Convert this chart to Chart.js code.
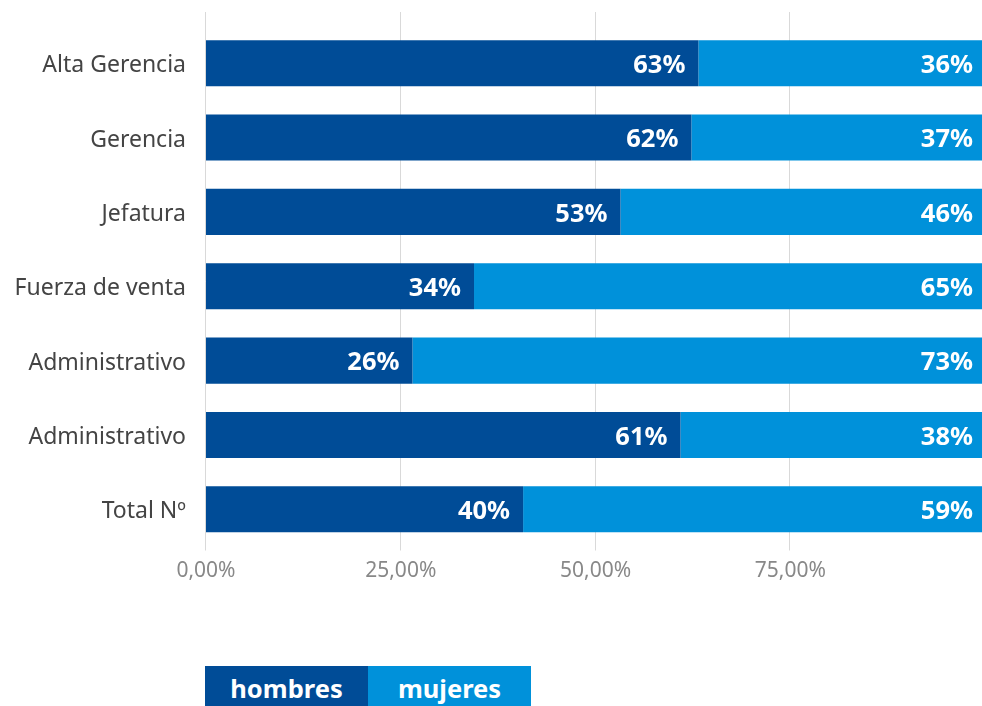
<!DOCTYPE html>
<html>
<head>
<meta charset="utf-8">
<script src="https://cdn.jsdelivr.net/npm/chart.js@4"></script>
<style>
    html, body { margin: 0; padding: 0; background: #fff; overflow: hidden; }
    #wrap { position: relative; width: 982px; height: 706px; }
    #chart-box { position: absolute; left: 0; top: 0; width: 982px; height: 600px; }
    #legend { position: absolute; left: 205px; top: 666px; display: flex; }
    #legend div {
        font: bold 25.5px "Noto Sans", sans-serif;
        width: 163px; height: 40px; line-height: 45px; text-align: center; overflow: hidden;
        color: #fff;
    }
</style>
</head>
<body>
<div id="wrap">
    <div id="chart-box"><canvas id="bars"></canvas></div>
    <div id="legend"></div>
</div>
<script>
// Distribución por género y cargo
const categories = ['Alta Gerencia', 'Gerencia', 'Jefatura', 'Fuerza de venta', 'Administrativo', 'Administrativo', 'Total Nº'];
const hombres = [63.2, 62.3, 53.2, 34.4, 26.5, 60.9, 40.7];
const mujeres = [36.4, 37.3, 46.4, 65.2, 73.1, 38.7, 58.9];
const hombresLabels = ['63%', '62%', '53%', '34%', '26%', '61%', '40%'];
const mujeresLabels = ['36%', '37%', '46%', '65%', '73%', '38%', '59%'];
const xTicks = [0, 25, 50, 75];

const DARK = '#004c97';
const LIGHT = '#0091da';

// vertical grid lines, a bit taller than the plot area
const gridLines = {
    id: 'gridLines',
    beforeDatasetsDraw(chart) {
        const { ctx, scales: { x }, chartArea } = chart;
        ctx.save();
        ctx.strokeStyle = '#d9d9d9';
        ctx.lineWidth = 1;
        xTicks.forEach(v => {
            const px = Math.round(x.getPixelForValue(v)) - 0.5;
            ctx.beginPath();
            ctx.moveTo(px, 12);
            ctx.lineTo(px, chartArea.bottom + 4);
            ctx.stroke();
        });
        ctx.restore();
    }
};

// white labels at the right end of each segment
const segmentLabels = {
    id: 'segmentLabels',
    afterDatasetsDraw(chart) {
        const { ctx } = chart;
        const texts = [hombresLabels, mujeresLabels];
        ctx.save();
        ctx.font = 'bold 25.5px "Noto Sans", sans-serif';
        ctx.fillStyle = '#fff';
        ctx.textAlign = 'right';
        ctx.textBaseline = 'middle';
        chart.data.datasets.forEach((ds, i) => {
            chart.getDatasetMeta(i).data.forEach((bar, j) => {
                const pad = i === 0 ? 13 : 9;
                ctx.fillText(texts[i][j], bar.x - pad, bar.y + 2.5);
            });
        });
        ctx.restore();
    }
};

const legend = document.getElementById('legend');
[['hombres', DARK], ['mujeres', LIGHT]].forEach(([name, color]) => {
    const d = document.createElement('div');
    d.textContent = name;
    d.style.background = color;
    legend.appendChild(d);
});

new Chart(document.getElementById('bars'), {
    type: 'bar',
    data: {
        labels: categories,
        datasets: [
            { label: 'hombres', data: hombres, backgroundColor: DARK },
            { label: 'mujeres', data: mujeres, backgroundColor: LIGHT }
        ]
    },
    options: {
        indexAxis: 'y',
        responsive: true,
        maintainAspectRatio: false,
        animation: false,
        layout: { padding: { top: 26, left: 0, right: 0, bottom: 0 } },
        datasets: {
            bar: { categoryPercentage: 1, barPercentage: 0.62, borderWidth: 0 }
        },
        plugins: {
            legend: { display: false },
            tooltip: { enabled: false }
        },
        scales: {
            x: {
                stacked: true,
                min: 0,
                max: 99.6,
                afterBuildTicks(scale) {
                    scale.ticks = xTicks.map(v => ({ value: v }));
                },
                afterFit(scale) { scale.height = 53.5; },
                grid: { display: false },
                border: { display: false },
                ticks: {
                    padding: 4,
                    color: '#888',
                    font: { family: 'Noto Sans', size: 21 },
                    callback: v => v.toFixed(2).replace('.', ',') + '%'
                }
            },
            y: {
                stacked: true,
                afterFit(scale) {
                    scale.width = 206;
                    // the tick padding is meant for the horizontal gap only
                    scale.paddingTop = 0;
                    scale.paddingBottom = 0;
                },
                grid: { display: false, drawTicks: false },
                border: { display: false },
                ticks: {
                    padding: 20,
                    labelOffset: 2.5,
                    color: '#444',
                    font: { family: 'Noto Sans', size: 23 }
                }
            }
        }
    },
    plugins: [gridLines, segmentLabels]
});
</script>
</body>
</html>
